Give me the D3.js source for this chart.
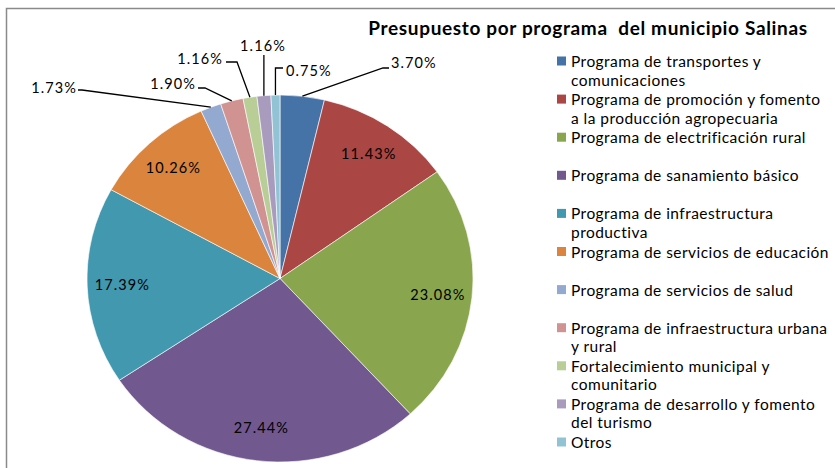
<!DOCTYPE html>
<html>
<head>
<meta charset="utf-8">
<script src="https://cdn.jsdelivr.net/npm/d3@7"></script>
<style>
  html, body { margin: 0; padding: 0; background: #fff; }
  svg { display: block; }
  text { font-family: Lato, "Open Sans", sans-serif; fill: #000; }
</style>
</head>
<body>
<svg id="chart" width="835" height="468"></svg>
<script>
// Budget share by programme, municipality of Salinas (percent of total)
const programas = [
  ["Programa de transportes y", "comunicaciones"],
  ["Programa de promoción y fomento", "a la producción agropecuaria"],
  ["Programa de electrificación rural"],
  ["Programa de sanamiento básico"],
  ["Programa de infraestructura", "productiva"],
  ["Programa de servicios de educación"],
  ["Programa de servicios de salud"],
  ["Programa de infraestructura urbana", "y rural"],
  ["Fortalecimiento municipal y", "comunitario"],
  ["Programa de desarrollo y fomento", "del turismo"],
  ["Otros"]
];
const porcentajes = [3.70, 11.43, 23.08, 27.44, 17.39, 10.26, 1.73, 1.90, 1.16, 1.16, 0.75];
const colores = ["#4572A7", "#AA4643", "#89A54E", "#71588F", "#4198AF", "#DB843D",
                 "#93A9CF", "#D19392", "#B9CD96", "#A99BBD", "#91C3D5"];
const titulo = "Presupuesto por programa  del municipio Salinas";

// Labels drawn outside the pie, with their leader-line elbows
const etiquetasExternas = [
  { i: 0,  tx: 391, ty: 62, anchor: "start",  elbow: [383, 68], end: [389, 68] },
  { i: 10, tx: 286, ty: 70, anchor: "start",  elbow: null,      end: [283, 68], vertical: 68 },
  { i: 9,  tx: 263, ty: 45, anchor: "middle", elbow: null,      end: null, vertical: 55 },
  { i: 8,  tx: 223, ty: 58, anchor: "end",    elbow: [237, 62], end: [226, 62] },
  { i: 7,  tx: 196, ty: 83, anchor: "end",    elbow: [205, 88], end: [198, 88] },
  { i: 6,  tx: 77,  ty: 87, anchor: "end",    elbow: [82, 90],  end: [78, 90] }
];

const svg = d3.select("#chart");

// chart frame
svg.append("rect")
  .attr("x", 6.5).attr("y", 8.5)
  .attr("width", 900).attr("height", 500)
  .attr("fill", "none").attr("stroke", "#8a8a8a").attr("stroke-width", 1.5);

// title
svg.append("text")
  .attr("x", 588).attr("y", 27)
  .attr("text-anchor", "middle").attr("dominant-baseline", "central")
  .style("white-space", "pre")
  .style("font-weight", "bold").style("font-size", "19px").style("letter-spacing", "0.65px")
  .text(titulo);

// pie geometry (slightly wider than tall)
const cx = 280, cy = 278.5, ry = 183.5, sx = 193 / 183.5;
const datos = porcentajes.map((v, i) => ({ v, i }));
const pie = d3.pie().value(d => d.v).sort(null);
const arcos = pie(datos);
const arc = d3.arc().innerRadius(0).outerRadius(ry);

const gPie = svg.append("g").attr("transform", `translate(${cx},${cy}) scale(${sx},1)`);
gPie.selectAll("path")
  .data(arcos)
  .join("path")
  .attr("d", arc)
  .attr("fill", d => colores[d.data.i])
  .attr("stroke", "#fff").attr("stroke-width", 0.6);

// point on the pie at angle a and radius fraction k, in page coordinates
function punto(a, k) {
  return [cx + sx * ry * k * Math.sin(a), cy - ry * k * Math.cos(a)];
}
const fmt = v => d3.format(".2f")(v) + "%";
const externos = new Set(etiquetasExternas.map(e => e.i));

// labels inside the large slices
svg.append("g").selectAll("text")
  .data(arcos.filter(d => !externos.has(d.data.i)))
  .join("text")
  .attr("x", d => punto((d.startAngle + d.endAngle) / 2, 0.82)[0] + 0.5)
  .attr("y", d => punto((d.startAngle + d.endAngle) / 2, 0.82)[1])
  .attr("text-anchor", "middle").attr("dominant-baseline", "central")
  .style("font-size", "14.5px").style("letter-spacing", "1.1px")
  .text(d => fmt(d.data.v));

// outside labels with leader lines
const gExt = svg.append("g");
etiquetasExternas.forEach(e => {
  const a = arcos[e.i];
  const p = punto((a.startAngle + a.endAngle) / 2, 1);
  const pts = [p];
  if (e.vertical !== undefined) pts.push([p[0], e.vertical]);
  if (e.elbow) pts.push(e.elbow);
  if (e.end) pts.push(e.end);
  gExt.append("path")
    .attr("d", d3.line()(pts))
    .attr("fill", "none").attr("stroke", "#000").attr("stroke-width", 1.3);
  gExt.append("text")
    .attr("x", e.tx).attr("y", e.ty)
    .attr("text-anchor", e.anchor).attr("dominant-baseline", "central")
    .style("font-size", "14.5px").style("letter-spacing", "1.1px")
    .text(fmt(porcentajes[e.i]));
});

// legend
const yLeg = d3.scaleLinear().domain([0, 10]).range([61, 442]);
const leg = svg.append("g").selectAll("g")
  .data(programas.map((lineas, i) => ({ lineas, i })))
  .join("g")
  .attr("transform", d => `translate(557,${yLeg(d.i)})`);
leg.append("rect")
  .attr("x", 0).attr("y", -4.5).attr("width", 9).attr("height", 9)
  .attr("fill", d => colores[d.i]);
leg.each(function (d) {
  d3.select(this).selectAll("text")
    .data(d.lineas)
    .join("text")
    .attr("x", 14).attr("y", (t, j) => j * 18.6)
    .attr("dominant-baseline", "central")
    .style("font-size", "15.5px").style("letter-spacing", "0.45px")
    .text(t => t);
});
</script>
</body>
</html>
